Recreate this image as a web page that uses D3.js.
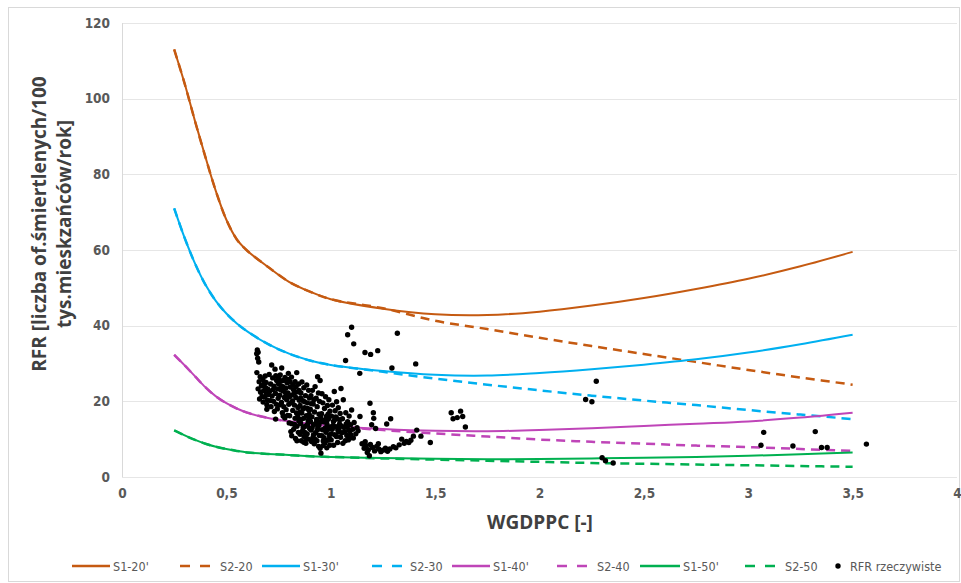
<!DOCTYPE html>
<html><head><meta charset="utf-8">
<script src="https://cdn.jsdelivr.net/npm/d3@7/dist/d3.min.js"></script>
<style>
body{margin:0;background:#fff;}
svg{display:block;}
text{font-family:"Liberation Sans Narrow","DejaVu Sans Condensed","Open Sans",sans-serif;}
</style></head>
<body><svg id="chart" width="961" height="583"></svg>
<script>
const xGrid = [0.25,0.3,0.35,0.4,0.45,0.5,0.55,0.6,0.7,0.8,0.9,1.0,1.25,1.5,1.75,2.0,2.25,2.5,2.75,3.0,3.25,3.5];
const s1_20 = [113,104,94,84.5,75.5,68,62.8,59.8,55.5,51.6,49,47,44.5,43.0,42.8,43.7,45.3,47.3,49.7,52.4,55.7,59.5];
const s2_20 = [113,104,94,84.5,75.5,68,62.8,59.8,55.5,51.6,49,47,44.6,41.3,39.1,36.8,34.6,32.5,30.4,28.3,26.3,24.4];
const s1_30 = [71,63.2,56.4,50.8,46.5,43.2,40.6,38.5,35.1,32.6,30.8,29.6,28.0,27.0,26.8,27.5,28.5,29.7,31.1,32.9,35.1,37.6];
const s2_30 = [71,63.2,56.4,50.8,46.5,43.2,40.6,38.5,35.1,32.6,30.8,29.6,27.8,26.0,24.4,22.9,21.5,20.2,19.0,17.7,16.5,15.3];
const s1_40 = [32.3,29.5,26.6,23.7,21.3,19.5,18.1,17.0,15.6,14.7,14.0,13.5,12.7,12.2,12.1,12.4,12.9,13.5,14.1,14.7,15.7,17.0];
const s2_40 = [32.3,29.5,26.6,23.7,21.3,19.5,18.1,17.0,15.6,14.7,14.0,13.5,12.4,11.5,10.7,9.9,9.3,8.8,8.3,7.9,7.4,6.9];
const s1_50 = [12.3,11.0,9.8,8.8,8.0,7.4,6.9,6.5,6.1,5.8,5.5,5.3,5.0,4.8,4.7,4.75,4.9,5.1,5.3,5.6,6.0,6.5];
const s2_50 = [12.3,11.0,9.8,8.8,8.0,7.4,6.9,6.5,6.1,5.8,5.5,5.3,4.9,4.6,4.3,4.0,3.7,3.5,3.3,3.1,2.9,2.7];

const seriesNames = ["S1-20'","S2-20","S1-30'","S2-30","S1-40'","S2-40","S1-50'","S2-50"];
const seriesColors = ["#C55A11","#C55A11","#00B0F0","#00B0F0","#BF45B8","#BF45B8","#00B050","#00B050"];
const seriesDashed = [false,true,false,true,false,true,false,true];
const seriesValues = [s1_20,s2_20,s1_30,s2_30,s1_40,s2_40,s1_50,s2_50];

const rfrPoints = [
[0.648,33.6],[0.652,33.0],[0.645,32.6],[0.650,31.4],[0.655,30.4],[0.646,27.6],[0.662,26.5],[0.657,25.2],[0.668,24.1],[0.652,23.3],[0.664,22.4],[0.671,21.3],[0.659,20.6],
[0.675,25.8],[0.681,24.6],[0.688,23.6],[0.679,22.8],[0.692,22.0],[0.684,21.1],[0.697,20.3],[0.690,25.0],[0.699,23.2],[0.676,19.8],[0.694,19.1],[0.686,26.7],
[0.717,29.6],[0.733,28.5],[0.705,27.1],[0.722,26.2],[0.741,25.5],[0.712,24.6],[0.728,24.0],[0.745,23.3],[0.708,22.7],[0.735,22.1],[0.719,21.4],[0.748,20.8],[0.726,20.0],[0.739,19.2],[0.714,18.6],[0.744,18.0],[0.730,17.3],[0.736,15.3],[0.702,21.8],[0.749,24.7],
[0.765,28.8],[0.797,27.4],[0.758,27.0],[0.781,26.3],[0.773,25.5],[0.791,24.9],[0.762,24.0],[0.785,23.5],[0.770,22.8],[0.795,22.2],[0.756,21.6],[0.778,21.0],[0.789,20.4],[0.764,19.7],[0.799,19.2],[0.775,18.6],[0.786,17.8],[0.768,17.0],[0.793,16.3],[0.780,15.6],[0.759,23.1],[0.796,25.8],
[0.837,27.6],[0.812,26.4],[0.829,25.2],[0.846,24.6],[0.806,23.8],[0.821,23.1],[0.840,22.5],[0.815,21.7],[0.833,21.0],[0.849,20.3],[0.808,19.6],[0.826,19.0],[0.843,18.4],[0.818,17.6],[0.836,16.9],[0.803,16.2],[0.829,15.5],[0.847,14.8],[0.813,14.1],[0.838,13.4],[0.822,12.6],[0.845,11.8],[0.813,10.9],[0.831,10.2],[0.809,12.0],[0.842,16.0],
[0.885,24.3],[0.862,25.1],[0.871,23.6],[0.894,22.9],[0.857,22.2],[0.879,21.5],[0.898,20.9],[0.866,20.2],[0.888,19.6],[0.853,18.9],[0.875,18.3],[0.896,17.6],[0.861,16.9],[0.883,16.2],[0.870,15.5],[0.892,14.8],[0.856,14.1],[0.878,13.4],[0.899,12.8],[0.864,12.1],[0.887,11.4],[0.872,10.7],[0.893,10.0],[0.859,9.6],[0.881,8.9],[0.895,15.4],[0.867,18.0],
[0.937,26.5],[0.949,25.5],[0.925,23.9],[0.912,22.9],[0.941,22.2],[0.905,21.5],[0.930,20.8],[0.946,20.0],[0.916,19.3],[0.935,18.6],[0.902,17.9],[0.922,17.2],[0.944,16.6],[0.910,15.9],[0.932,15.2],[0.948,14.5],[0.918,13.8],[0.938,13.1],[0.906,12.4],[0.927,11.7],[0.945,11.0],[0.914,10.3],[0.934,9.6],[0.921,8.8],[0.942,8.1],[0.949,7.6],[0.953,6.3],[0.908,9.4],[0.929,14.2],
[0.958,22.0],[0.975,21.2],[0.991,20.4],[0.962,19.6],[0.984,18.9],[0.970,18.1],[0.996,17.4],[0.956,16.7],[0.979,16.0],[0.989,15.3],[0.965,14.6],[0.982,13.9],[0.998,13.2],[0.960,12.5],[0.977,11.8],[0.993,11.1],[0.968,10.4],[0.986,9.7],[0.972,9.0],[0.995,8.4],[0.981,7.7],[0.963,8.3],[0.988,12.6],[0.971,15.0],
[1.017,22.6],[1.049,23.4],[1.028,19.9],[1.008,19.0],[1.036,18.3],[1.021,17.5],[1.045,16.8],[1.004,16.1],[1.031,15.4],[1.013,14.7],[1.042,14.0],[1.025,13.3],[1.007,12.6],[1.038,11.9],[1.019,11.2],[1.047,10.5],[1.002,9.8],[1.033,9.1],[1.014,8.4],[1.040,12.9],[1.024,15.9],
[1.060,20.4],[1.100,17.7],[1.072,17.0],[1.088,16.1],[1.056,15.4],[1.081,14.6],[1.095,13.8],[1.064,13.1],[1.086,12.4],[1.053,11.7],[1.077,11.0],[1.093,10.3],[1.069,9.6],[1.058,8.9],[1.091,12.0],[1.074,14.0],
[1.140,16.0],[1.112,14.4],[1.126,13.0],[1.105,12.6],[1.120,11.4],[1.108,10.3],[1.131,12.2],
[0.803,21.2],[0.817,20.1],[0.827,22.3],[0.852,17.1],[0.858,15.2],[0.868,13.0],[0.876,11.8],[0.884,10.2],[0.889,13.9],[0.897,16.5],[0.903,14.7],[0.911,13.0],[0.917,11.1],[0.924,10.0],[0.936,12.4],[0.943,13.7],[0.952,15.7],[0.957,10.9],[0.964,9.5],[0.973,12.9],[0.980,14.6],[0.987,16.6],[0.994,10.1],[1.003,11.4],[1.011,13.6],[1.018,15.1],[1.027,10.7],[1.034,12.4],[1.043,15.1],[1.051,13.5],[1.066,11.9],[1.079,13.2],[1.084,9.8],[1.097,11.1],[0.724,23.1],[0.737,26.8],[0.752,26.0],[0.761,25.3],[0.771,23.9],[0.783,22.3],[0.792,21.3],[0.805,25.2],[0.819,24.4],[0.834,23.9],[0.848,22.9],[0.856,20.9],[0.874,19.9],[0.889,18.1],[0.906,19.4],[0.919,20.4],[0.694,17.9],[0.711,20.2],[0.754,19.0],[0.772,16.1],[0.801,14.3],[0.826,13.9],[0.853,11.3],[0.838,9.6],[0.871,9.2],
[1.150,8.8],[1.160,7.6],[1.170,8.3],[1.180,7.2],[1.185,5.6],[1.190,8.6],[1.200,7.8],[1.210,6.9],[1.220,8.1],[1.230,7.4],[1.240,6.7],[1.250,7.1],[1.262,7.6],[1.272,6.8],[1.283,7.4],[1.300,8.0],[1.312,7.7],[1.328,8.5],[1.340,10.0],[1.352,8.9],[1.362,9.4],[1.374,9.1],[1.384,9.7],[1.396,10.8],[1.412,12.4],[1.432,10.8],[1.477,9.1],[1.188,19.5],[1.204,17.0],[1.206,15.5],[1.196,13.8],[1.215,12.8],[1.287,15.4],[1.268,14.0],[1.165,9.3],[1.228,8.8],[1.175,6.5],
[1.100,39.6],[1.081,37.6],[1.110,35.2],[1.071,30.8],[1.164,32.9],[1.191,32.4],[1.225,33.4],[1.319,38.0],[1.139,27.4],[1.293,28.8],[1.407,29.9],
[1.577,17.0],[1.622,17.4],[1.586,15.4],[1.606,15.7],[1.632,16.0],[1.645,13.2],
[2.221,20.5],[2.251,19.9],[2.272,25.3],[2.300,5.1],[2.316,4.3],[2.353,3.7],
[3.074,11.8],[3.061,8.4],[3.214,8.2],[3.321,12.0],[3.351,7.8],[3.378,7.8],[3.566,8.7]
];
const pointsName = "RFR rzeczywiste";

const xTicks = [0,0.5,1,1.5,2,2.5,3,3.5,4];
const yTicks = [0,20,40,60,80,100,120];
const xTitle = "WGDPPC [-]";
const yTitleLines = ["RFR [liczba of.śmiertlenych/100","tys.mieskzańców/rok]"];

const svg = d3.select("#chart");
svg.append("rect").attr("x",8.5).attr("y",7.5).attr("width",951).attr("height",574)
  .attr("fill","#fff").attr("stroke","#d9d9d9").attr("stroke-width",1);

const x = d3.scaleLinear().domain([0,4]).range([122,957]);
const y = d3.scaleLinear().domain([0,120]).range([477,23]);

// gridlines
svg.append("g").selectAll("line").data(yTicks).join("line")
  .attr("x1",x(0)).attr("x2",x(4))
  .attr("y1",d=>Math.round(y(d))+0.5).attr("y2",d=>Math.round(y(d))+0.5)
  .attr("stroke","#e6e6e6").attr("stroke-width",1);
svg.append("line").attr("x1",x(0)+0.5).attr("x2",x(0)+0.5).attr("y1",y(120)).attr("y2",y(0))
  .attr("stroke","#d9d9d9");

// axes tick labels
const yAxis = d3.axisLeft(y).tickValues(yTicks).tickSize(0).tickPadding(12).tickFormat(d3.format("d"));
const gy = svg.append("g").attr("transform",`translate(${x(0)},0)`).call(yAxis);
gy.select(".domain").remove();
gy.selectAll("text").attr("fill","#595959").attr("font-size",13.5).attr("font-weight",600).style("font-family","'Liberation Sans Narrow','DejaVu Sans Condensed',sans-serif");

const xAxis = d3.axisBottom(x).tickValues(xTicks).tickSize(0).tickPadding(11)
  .tickFormat(d=>String(d).replace(".",","));
const gx = svg.append("g").attr("transform",`translate(0,${y(0)})`).call(xAxis);
gx.select(".domain").remove();
gx.selectAll("text").attr("fill","#595959").attr("font-size",13.5).attr("font-weight",600).style("font-family","'Liberation Sans Narrow','DejaVu Sans Condensed',sans-serif");

// titles
svg.append("text").attr("x",540).attr("y",529).attr("text-anchor","middle")
  .attr("font-size",19).attr("font-weight","bold").attr("fill","#404040")
  .style("font-family","'Open Sans',sans-serif").text(xTitle);
const yt = svg.append("text").attr("transform","translate(52,224) rotate(-90)")
  .attr("text-anchor","middle").attr("font-size",19).attr("font-weight","bold").attr("fill","#404040")
  .style("font-family","'Open Sans',sans-serif");
yTitleLines.forEach((t,i)=>{
  yt.append("tspan").attr("x",0).attr("dy",i===0?-6:25).text(t);
});

// lines
const line = d3.line().x((d,i)=>x(xGrid[i])).y(d=>y(d)).curve(d3.curveCatmullRom.alpha(0.5));
seriesValues.forEach((vals,k)=>{
  svg.append("path").datum(vals).attr("d",line)
    .attr("fill","none").attr("stroke",seriesColors[k]).attr("stroke-width",seriesDashed[k]?2.5:2)
    .attr("stroke-dasharray",seriesDashed[k]?"9,6":null);
});

// scatter
svg.append("g").selectAll("circle").data(rfrPoints).join("circle")
  .attr("cx",d=>x(d[0])).attr("cy",d=>y(d[1])).attr("r",2.7).attr("fill","#000");

// legend
const legendItems = [
  {lx:72, tx:113},{lx:180, tx:220},{lx:262, tx:303},{lx:372, tx:410},
  {lx:452, tx:493},{lx:557, tx:597},{lx:640, tx:683},{lx:745, tx:785}
];
const ly = 566;
const lg = svg.append("g");
seriesNames.forEach((n,k)=>{
  const it = legendItems[k];
  lg.append("line").attr("x1",it.lx).attr("x2",seriesDashed[k]?it.lx+30:it.tx-3).attr("y1",ly).attr("y2",ly)
    .attr("stroke",seriesColors[k]).attr("stroke-width",2.5)
    .attr("stroke-dasharray",seriesDashed[k]?"10,10":null);
  lg.append("text").attr("x",it.tx).attr("y",ly+4.5).attr("font-size",12.5).attr("fill","#595959").text(n);
});
lg.append("circle").attr("cx",838).attr("cy",ly).attr("r",2.7).attr("fill","#000");
lg.append("text").attr("x",850).attr("y",ly+4.5).attr("font-size",12.5).attr("fill","#595959").text(pointsName);
</script></body></html>
